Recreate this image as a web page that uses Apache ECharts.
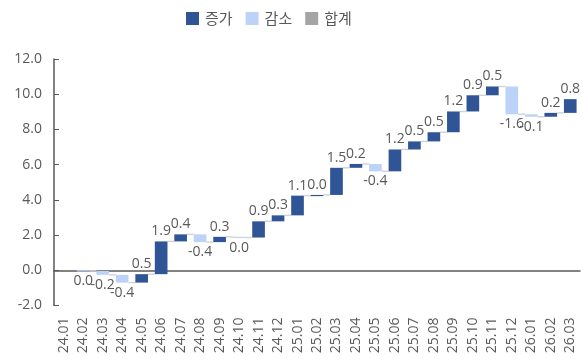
<!DOCTYPE html>
<html>
<head>
<meta charset="utf-8">
<script src="https://cdn.jsdelivr.net/npm/echarts@6/dist/echarts.min.js"></script>
<style>
  html, body { margin: 0; padding: 0; background: #fff; }
  #chart { width: 583px; height: 360px; }
</style>
</head>
<body>
<div id="chart"></div>
<script>
// Monthly categories (YY.MM)
const categories = [
  '24.01','24.02','24.03','24.04','24.05','24.06','24.07','24.08','24.09','24.10','24.11','24.12',
  '25.01','25.02','25.03','25.04','25.05','25.06','25.07','25.08','25.09','25.10','25.11','25.12',
  '26.01','26.02','26.03'
];
// Month-over-month change; the first month is the starting point
const changes = [
  null, -0.04, -0.22, -0.44, 0.48, 1.86, 0.40, -0.44, 0.30, -0.04, 0.92, 0.34,
  1.12, 0.04, 1.54, 0.22, -0.42, 1.24, 0.46, 0.52, 1.18, 0.92, 0.50, -1.58,
  -0.14, 0.22, 0.78
];
// Value axis ticks
const yTicks = { min: -2, max: 12, step: 2 };
const seriesNames = ['증가', '감소', '합계'];

const colors = { up: '#2F5597', down: '#BDD2F9', total: '#A5A5A5', connector: '#D4D4D4', text: '#595959', axis: '#595959' };
const numFont = 'Open Sans';
const cjkFont = 'Noto Sans CJK KR';

// Build floating segments [index, start, end, change]
const upData = [], downData = [], allData = [];
let level = 0;
changes.forEach((c, i) => {
  if (c === null) return;
  const start = level, end = level + c;
  level = end;
  const row = [i, start, end, c];
  allData.push(row);
  (c >= 0 ? upData : downData).push(row);
});

const fmt = v => Math.abs(v) < 0.05 ? '0.0' : v.toFixed(1);
const BAR_RATIO = 0.65;

function barItem(color) {
  return function (params, api) {
    const idx = api.value(0), start = api.value(1), end = api.value(2);
    const p1 = api.coord([idx, start]);
    const p2 = api.coord([idx, end]);
    const w = api.size([1, 0])[0] * BAR_RATIO;
    const top = Math.min(p1[1], p2[1]);
    const h = Math.max(Math.abs(p1[1] - p2[1]), 1.2);
    return {
      type: 'rect',
      shape: { x: p1[0] - w / 2, y: top, width: w, height: h },
      style: { fill: color }
    };
  };
}

// Connectors between consecutive bars and value labels
function decorItem(params, api) {
  const idx = api.value(0), end = api.value(2), c = api.value(3);
  const w = api.size([1, 0])[0] * BAR_RATIO;
  const pEnd = api.coord([idx, end]);
  const children = [];
  if (idx < categories.length - 1) {
    const pNext = api.coord([idx + 1, end]);
    children.push({
      type: 'line',
      shape: { x1: pEnd[0] + w / 2, y1: pEnd[1], x2: pNext[0] - w / 2, y2: pNext[1] },
      style: { stroke: colors.connector, lineWidth: 1.5 }
    });
  }
  const up = c >= 0;
  children.push({
    type: 'text',
    style: {
      text: fmt(c),
      x: pEnd[0],
      y: up ? pEnd[1] - 3 : pEnd[1] + 3,
      align: 'center',
      verticalAlign: up ? 'bottom' : 'top',
      fill: colors.text,
      fontSize: 14,
      fontFamily: numFont
    },
    z2: 10
  });
  return { type: 'group', children };
}

const chart = echarts.init(document.getElementById('chart'), null, { renderer: 'canvas' });
chart.setOption({
  animation: false,
  legend: {
    data: seriesNames,
    top: 11,
    left: 186,
    padding: 0,
    icon: 'rect',
    itemWidth: 13,
    itemHeight: 13,
    itemGap: 13,
    textStyle: { color: colors.text, fontSize: 15, fontFamily: cjkFont, padding: [0, 0, 0, 1] }
  },
  grid: { left: 54, right: 3, top: 59, bottom: 54.5, containLabel: false },
  xAxis: {
    type: 'category',
    data: categories,
    boundaryGap: true,
    axisLine: { lineStyle: { color: colors.axis, width: 1.5 } },
    axisTick: { inside: true, length: 4, lineStyle: { color: colors.axis } },
    axisLabel: { rotate: 90, margin: 12, color: colors.text, fontSize: 14, fontFamily: numFont, interval: 0 }
  },
  yAxis: {
    type: 'value',
    min: yTicks.min,
    max: yTicks.max,
    interval: yTicks.step,
    splitLine: { show: false },
    axisLine: { show: true, lineStyle: { color: colors.axis, width: 1.5 } },
    axisTick: { show: true, inside: true, length: 5, lineStyle: { color: colors.axis } },
    axisLabel: { margin: 12, color: colors.text, fontSize: 14, fontFamily: numFont, formatter: v => v.toFixed(1) }
  },
  series: [
    { name: seriesNames[0], type: 'custom', renderItem: barItem(colors.up), itemStyle: { color: colors.up },
      encode: { x: 0, y: [1, 2] }, data: upData, z: 3 },
    { name: seriesNames[1], type: 'custom', renderItem: barItem(colors.down), itemStyle: { color: colors.down },
      encode: { x: 0, y: [1, 2] }, data: downData, z: 3 },
    { name: seriesNames[2], type: 'custom', renderItem: () => null, itemStyle: { color: colors.total },
      encode: { x: 0, y: [1, 2] }, data: [] },
    { name: 'decor', type: 'custom', renderItem: decorItem, encode: { x: 0, y: [1, 2] },
      data: allData, z: 2, silent: true }
  ]
});
</script>
</body>
</html>
